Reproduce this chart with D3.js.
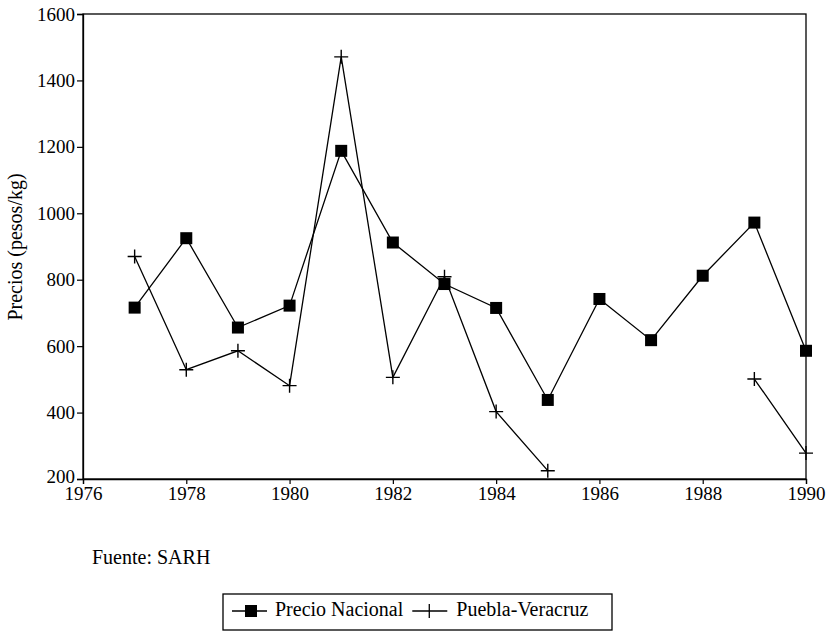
<!DOCTYPE html>
<html><head><meta charset="utf-8">
<script src="https://cdn.jsdelivr.net/npm/d3@7"></script>
<style>body{margin:0;background:#fff}svg{display:block}
svg text{font-family:"Times New Roman","Liberation Serif","DejaVu Serif","Noto Serif",serif !important;fill:#000}
</style>
</head><body>
<svg id="c" width="834" height="635"></svg>
<script>
const years = [1977,1978,1979,1980,1981,1982,1983,1984,1985,1986,1987,1988,1989,1990];
const precioNacional = [716,925,656,722,1188,912,787,715,438,742,618,812,972,586];
const pueblaVeracruz = [870,529,586,481,1471,506,809,403,225,null,null,null,501,278];
const xTicks = [1976,1978,1980,1982,1984,1986,1988,1990];
const yTicks = [200,400,600,800,1000,1200,1400,1600];
const seriesNames = ["Precio Nacional","Puebla-Veracruz"];

const svg = d3.select("#c");
const L=83, R=806, T=14, B=479;
const x = d3.scaleLinear().domain([1976,1990]).range([L,R]);
const y = d3.scaleLinear().domain([200,1600]).range([B,T]);

svg.append("rect").attr("x",L).attr("y",T).attr("width",R-L).attr("height",B-T)
  .attr("fill","none").attr("stroke","#000").attr("stroke-width",1.3);

const xAxis = svg.append("g").attr("transform",`translate(0,${B})`)
  .call(d3.axisBottom(x).tickValues(xTicks).tickFormat(d3.format("d")).tickSize(5).tickPadding(3));
const yAxis = svg.append("g").attr("transform",`translate(${L},0)`)
  .call(d3.axisLeft(y).tickValues(yTicks).tickFormat(d3.format("d")).tickSize(6).tickPadding(2));
[xAxis,yAxis].forEach(g=>{
  g.attr("font-size",19).attr("font-family",null);
  g.select(".domain").attr("stroke","#000").attr("stroke-width",1.3);
  g.selectAll(".tick line").attr("stroke","#000").attr("stroke-width",1.2);
  g.selectAll(".tick text").attr("font-size",19);
});
yAxis.selectAll(".tick text").attr("dy",d=>d===200?"0.18em":"0.32em");

svg.append("text").attr("transform","translate(22,247) rotate(-90)")
  .attr("text-anchor","middle").attr("font-size",20)
  .text("Precios (pesos/kg)");

const line = d3.line().defined(d=>d[1]!=null).x(d=>x(d[0])).y(d=>y(d[1]));
const d1 = years.map((yr,i)=>[yr,precioNacional[i]]);
const d2 = years.map((yr,i)=>[yr,pueblaVeracruz[i]]);

svg.append("path").datum(d1).attr("d",line).attr("fill","none").attr("stroke","#000").attr("stroke-width",1.3);
svg.append("path").datum(d2).attr("d",line).attr("fill","none").attr("stroke","#000").attr("stroke-width",1.3);

svg.selectAll(".sq").data(d1).enter().append("rect")
  .attr("x",d=>x(d[0])-6).attr("y",d=>y(d[1])-6).attr("width",12).attr("height",12).attr("fill","#000");

svg.selectAll(".pl").data(d2.filter(d=>d[1]!=null)).enter().append("path")
  .attr("d",d=>`M${x(d[0])-7},${y(d[1])}H${x(d[0])+7}M${x(d[0])},${y(d[1])-7}V${y(d[1])+7}`)
  .attr("stroke","#000").attr("stroke-width",1.4).attr("fill","none");

svg.append("text").attr("x",92).attr("y",564).attr("font-size",20).text("Fuente: SARH");

const lg = svg.append("g");
lg.append("rect").attr("x",223).attr("y",594).attr("width",389).attr("height",36)
  .attr("fill","none").attr("stroke","#000").attr("stroke-width",1.3);
const ly = 611;
lg.append("line").attr("x1",232).attr("x2",267).attr("y1",ly).attr("y2",ly).attr("stroke","#000").attr("stroke-width",1.3);
lg.append("rect").attr("x",245).attr("y",ly-6).attr("width",12).attr("height",12).attr("fill","#000");
const t1 = lg.append("text").attr("x",275).attr("y",ly+5).attr("font-size",20).text(seriesNames[0]);
const e2 = 275 + t1.node().getComputedTextLength() + 9;
lg.append("line").attr("x1",e2).attr("x2",e2+35).attr("y1",ly).attr("y2",ly).attr("stroke","#000").attr("stroke-width",1.3);
lg.append("path").attr("d",`M${e2+17},${ly-7}V${ly+7}`).attr("stroke","#000").attr("stroke-width",1.3);
lg.append("text").attr("x",e2+44).attr("y",ly+5).attr("font-size",20).text(seriesNames[1]);
</script>
</body></html>
